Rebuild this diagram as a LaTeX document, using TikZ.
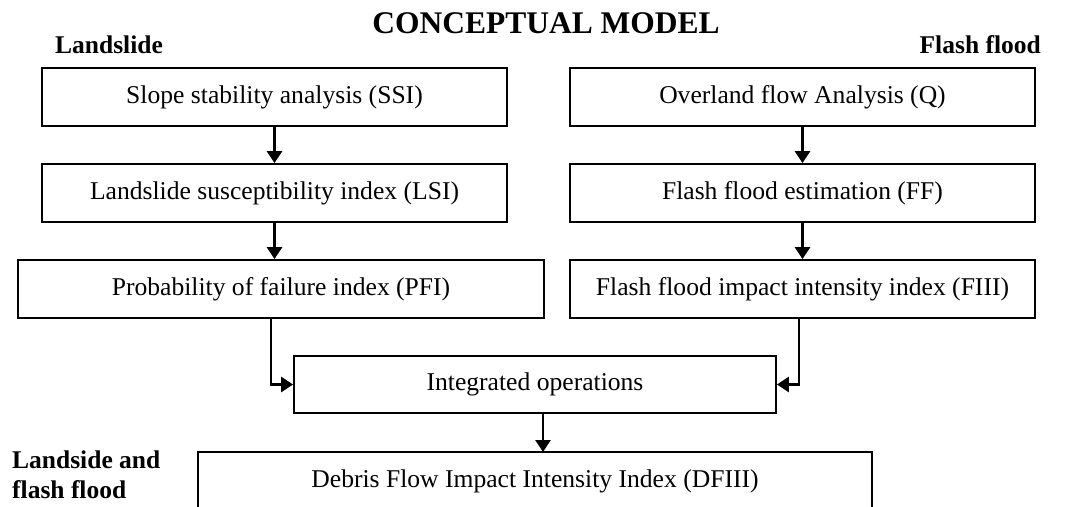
\documentclass[tikz,border=0pt]{standalone}
\usepackage{fontspec}
\setmainfont{Liberation Serif}
\usetikzlibrary{arrows.meta}
\begin{document}
\begin{tikzpicture}[x=1pt,y=-1pt,
  box/.style={draw,line width=1.8pt,inner sep=0pt,font=\fontsize{25.6}{28}\selectfont},
  flow/.style={line width=2.6pt,-{Triangle[length=12pt,width=15pt]}},
  head/.style={font=\fontsize{25.5}{30}\selectfont\bfseries,inner sep=0pt}]
\useasboundingbox (0,0) rectangle (1068,506);
\begin{scope}
\clip (0,0) rectangle (1068,506);
% left column: landslide
\node[box,minimum width=465pt,minimum height=58pt] (ssi) at (274.5,97) {Slope stability analysis (SSI)};
\node[box,minimum width=465pt,minimum height=58pt] (lsi) at (274.5,193) {Landslide susceptibility index (LSI)};
\node[box,minimum width=526pt,minimum height=58pt] (pfi) at (281,289) {Probability of failure index (PFI)};
% right column: flash flood
\node[box,minimum width=465pt,minimum height=58pt] (q) at (802.5,97) {Overland flow Analysis (Q)};
\node[box,minimum width=465pt,minimum height=58pt] (ff) at (802.5,193) {Flash flood estimation (FF)};
\node[box,minimum width=465pt,minimum height=58pt] (fiii) at (802.5,289) {Flash flood impact intensity index (FIII)};
% merging steps
\node[box,minimum width=482pt,minimum height=57pt] (io) at (535,384.5) {Integrated operations};
\node[box,minimum width=674pt,minimum height=58pt] (dfiii) at (535,481) {Debris Flow Impact Intensity Index (DFIII)};
% connectors
\draw[flow] (ssi.south) -- (lsi.north);
\draw[flow] (lsi.south) -- (lsi.south |- pfi.north);
\draw[flow] (q.south) -- (ff.north);
\draw[flow] (ff.south) -- (fiii.north);
\draw[flow] (271,318) |- (io.west);
\draw[flow] (799,318) |- (io.east);
\draw[flow] (543,413) -- (543,452);
\end{scope}
% headings
\node[head,font=\fontsize{31.5}{34}\selectfont\bfseries] (title) at (546,23) {CONCEPTUAL MODEL};
\node[head,anchor=base west] (ls) at (55,53) {Landslide};
\node[head,anchor=base east] (fl) at (1041,53) {Flash flood};
\node[head,anchor=base west,align=left] (both) at (12,498) {Landside and\\flash flood};
\end{tikzpicture}
\end{document}
